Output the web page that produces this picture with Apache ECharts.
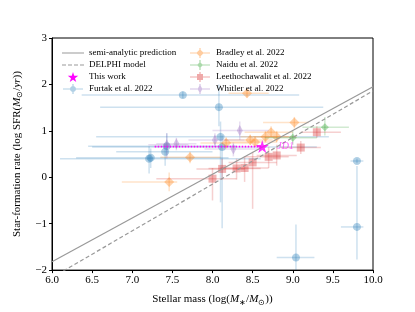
<!DOCTYPE html>
<html><head><meta charset="utf-8">
<script src="https://cdn.jsdelivr.net/npm/echarts@6/dist/echarts.min.js"></script>
<style>html,body{margin:0;padding:0;background:#fff}#c{width:415px;height:312px}</style>
</head><body><div id="c"></div>
<script>
// x-axis ticks (log stellar mass) and y-axis ticks (log SFR)
const xTicks = [6.0, 6.5, 7.0, 7.5, 8.0, 8.5, 9.0, 9.5, 10.0];
const yTicks = [-2, -1, 0, 1, 2, 3];

// model lines: [mass, sfr]
const semiAnalytic = [[6.0, -1.82], [10.0, 1.95]];
const delphi = [[6.0, -2.16], [10.0, 1.86]];

// each row: [mass, sfr, massLow, massHigh, sfrLow, sfrHigh]
const furtak = [
  [7.63, 1.77, 6.37, 9.08, 1.70, 1.84],
  [8.08, 1.51, 6.60, 9.38, 1.10, 2.00],
  [8.10, 0.87, 6.55, 9.45, -0.54, 1.20],
  [8.12, 0.65, 6.50, 9.30, -1.10, 0.90],
  [7.43, 0.67, 6.45, 8.30, 0.45, 0.95],
  [7.41, 0.55, 6.80, 8.00, 0.25, 0.72],
  [7.21, 0.40, 6.10, 8.60, 0.08, 0.66],
  [7.23, 0.42, 6.30, 8.20, 0.20, 0.62],
  [9.80, 0.35, 9.72, 9.88, 0.30, 0.40],
  [9.80, -1.07, 9.60, 9.88, -1.77, 0.24],
  [9.04, -1.73, 8.80, 9.27, -2.20, -1.02]
];
const bradley = [
  [8.43, 1.81, 8.20, 8.70, 1.72, 1.90],
  [9.02, 1.18, 8.63, 9.20, 1.05, 1.30],
  [8.73, 0.97, 8.40, 9.00, 0.85, 1.10],
  [8.80, 0.87, 8.50, 9.05, 0.75, 1.00],
  [8.66, 0.87, 8.35, 8.95, 0.75, 1.00],
  [8.47, 0.80, 8.15, 8.75, 0.70, 0.92],
  [8.53, 0.76, 8.20, 8.80, 0.65, 0.88],
  [8.17, 0.74, 7.85, 8.45, 0.62, 0.86],
  [7.72, 0.43, 7.35, 8.10, 0.30, 0.55],
  [7.46, -0.10, 6.87, 7.56, -0.30, 0.10]
];
const naidu = [
  [9.40, 1.08, 9.12, 9.70, 0.90, 1.30],
  [9.00, 0.85, 8.65, 9.30, 0.70, 1.00]
];
const leethochawalit = [
  [9.30, 0.97, 9.10, 9.60, 0.85, 1.10],
  [9.10, 0.64, 8.85, 9.35, 0.50, 0.78],
  [8.80, 0.47, 8.55, 9.05, 0.25, 0.70],
  [8.70, 0.44, 8.40, 8.95, 0.20, 0.65],
  [8.50, 0.32, 8.20, 8.80, -0.68, 0.55],
  [8.40, 0.20, 8.10, 8.70, -0.10, 0.45],
  [8.30, 0.19, 7.95, 8.60, -0.05, 0.40],
  [8.12, 0.18, 7.80, 8.40, -0.05, 0.40],
  [8.00, -0.03, 7.30, 8.30, -0.50, 0.20]
];
const whitler = [
  [8.34, 1.01, 8.00, 8.70, 0.80, 1.20],
  [8.03, 0.80, 7.70, 8.40, 0.65, 0.95],
  [8.26, 0.61, 7.90, 8.60, 0.45, 0.75],
  [7.55, 0.72, 7.30, 7.80, 0.58, 0.85],
  [7.43, 0.70, 7.20, 7.70, 0.40, 0.95]
];
const thisWork = [[8.62, 0.66, 7.28, 8.62, 0.66, 0.66]];
const thisWorkLabel = 'JD1';

const FONT = 'Liberation Serif';
const STAR = 'path://M0,-1 L0.2245,-0.309 L0.951,-0.309 L0.363,0.118 L0.588,0.809 L0,0.382 L-0.588,0.809 L-0.363,0.118 L-0.951,-0.309 L-0.2245,-0.309 Z';
const SOLID_ICON = 'path://M0,0 L22,0 L22,10 L0,10 Z M0,0 Z';
function lineIcon(dashed) {
  if (!dashed) return 'path://M0,4.4 L22,4.4 L22,5.6 L0,5.6 Z M0,0 L0.01,0 L0.01,0.01 Z M0,10 L0.01,10 L0.01,9.99 Z';
  let d = 'path://';
  for (let x = 0; x < 22; x += 6) d += 'M' + x + ',4.4 L' + Math.min(x + 4, 22) + ',4.4 L' + Math.min(x + 4, 22) + ',5.6 L' + x + ',5.6 Z ';
  d += 'M0,0 L0.01,0 L0.01,0.01 Z M0,10 L0.01,10 L0.01,9.99 Z';
  return d;
}

function rgba(hex, a) {
  const n = parseInt(hex.slice(1), 16);
  return 'rgba(' + (n >> 16) + ',' + ((n >> 8) & 255) + ',' + (n & 255) + ',' + a + ')';
}
function markerPts(shape, cx, cy, s) {
  if (shape === 'diamond') return [[cx, cy - s], [cx + s, cy], [cx, cy + s], [cx - s, cy]];
  if (shape === 'thin') return [[cx, cy - s * 1.1], [cx + s * 0.6, cy], [cx, cy + s * 1.1], [cx - s * 0.6, cy]];
  if (shape === 'square') return [[cx - s, cy - s], [cx + s, cy - s], [cx + s, cy + s], [cx - s, cy + s]];
  const p = [];
  for (let i = 0; i < 16; i++) { const a = i / 16 * Math.PI * 2; p.push([cx + s * Math.cos(a), cy + s * Math.sin(a)]); }
  return p;
}
function legendIcon(shape, s) {
  const pts = markerPts(shape, 10, 5, s);
  let d = 'path://M0,4.4 L20,4.4 L20,5.6 L0,5.6 Z M9.4,0 L10.6,0 L10.6,10 L9.4,10 Z M';
  d += pts.map(p => p[0].toFixed(2) + ',' + p[1].toFixed(2)).join(' L') + ' Z';
  return d;
}
function errSeries(name, data, hex, shape, size) {
  return {
    name, type: 'custom', data, clip: true, z: 3,
    itemStyle: { color: rgba(hex, 0.4) },
    renderItem(params, api) {
      const x = api.value(0), y = api.value(1);
      const c = api.coord([x, y]);
      const l = api.coord([api.value(2), y]), r = api.coord([api.value(3), y]);
      const b = api.coord([x, api.value(4)]), t = api.coord([x, api.value(5)]);
      const es = { stroke: rgba(hex, 0.22), lineWidth: 1.5, fill: null };
      return {
        type: 'group',
        children: [
          { type: 'line', shape: { x1: l[0], y1: l[1], x2: r[0], y2: r[1] }, style: es },
          { type: 'line', shape: { x1: t[0], y1: t[1], x2: b[0], y2: b[1] }, style: es },
          { type: 'polygon', shape: { points: markerPts(shape, c[0], c[1], size) }, style: { fill: rgba(hex, 0.35), stroke: null } }
        ]
      };
    }
  };
}
const blue = '#1f77b4', orange = '#ff7f0e', green = '#2ca02c', red = '#d62728', purple = '#9467bd';

const chart = echarts.init(document.getElementById('c'), null, { renderer: 'canvas' });
chart.setOption({
  animation: false,
  backgroundColor: '#fff',
  textStyle: { fontFamily: FONT },
  grid: { left: 52, right: 42, top: 38, bottom: 35, show: true, borderColor: '#000', borderWidth: 1 },
  legend: [
    {
      left: 57, top: 43, orient: 'vertical', itemWidth: 22, itemHeight: 10, itemGap: 2,
      textStyle: { fontFamily: FONT, fontSize: 9, color: '#000' },
      data: [
        { name: 'semi-analytic prediction', icon: lineIcon(false), itemStyle: { color: '#999' } },
        { name: 'DELPHI model', icon: lineIcon(true), itemStyle: { color: '#999' } },
        { name: 'This work', icon: STAR, itemStyle: { color: '#ff00ff' } },
        { name: 'Furtak et al. 2022', icon: legendIcon('circle', 3), itemStyle: { color: rgba(blue, 0.35) } }
      ]
    },
    {
      left: 185, top: 43, orient: 'vertical', itemWidth: 22, itemHeight: 10, itemGap: 2,
      textStyle: { fontFamily: FONT, fontSize: 9, color: '#000' },
      data: [
        { name: 'Bradley et al. 2022', icon: legendIcon('diamond', 3.8), itemStyle: { color: rgba(orange, 0.4) } },
        { name: 'Naidu et al. 2022', icon: legendIcon('diamond', 3), itemStyle: { color: rgba(green, 0.4) } },
        { name: 'Leethochawalit et al. 2022', icon: legendIcon('square', 3), itemStyle: { color: rgba(red, 0.4) } },
        { name: 'Whitler et al. 2022', icon: legendIcon('thin', 4), itemStyle: { color: rgba(purple, 0.4) } }
      ]
    }
  ],
  xAxis: {
    type: 'value', min: xTicks[0], max: xTicks[xTicks.length - 1], interval: 0.5,
    axisLine: { onZero: false, lineStyle: { color: '#000' } },
    axisTick: { length: 3, lineStyle: { color: '#000' } },
    splitLine: { show: false },
    axisLabel: { color: '#000', fontSize: 11, fontFamily: FONT, margin: 5, formatter: v => v.toFixed(1) },
    name: '{a|Stellar mass (log(}{i|M}{s|∗}{a|/}{i|M}{s|⊙}{a|))}',
    nameLocation: 'middle', nameGap: 20,
    nameTextStyle: {
      rich: {
        a: { fontSize: 11, fontFamily: FONT, color: '#000', verticalAlign: 'top', lineHeight: 13 },
        i: { fontSize: 11, fontFamily: FONT, fontStyle: 'italic', color: '#000', verticalAlign: 'top', lineHeight: 13 },
        s: { fontSize: 7.5, fontFamily: FONT, color: '#000', verticalAlign: 'bottom', lineHeight: 8, padding: [8, 0, 0, 0] }
      }
    }
  },
  yAxis: {
    type: 'value', min: yTicks[0], max: yTicks[yTicks.length - 1], interval: 1,
    axisLine: { onZero: false, lineStyle: { color: '#000' } },
    axisTick: { show: true, length: 3, lineStyle: { color: '#000' } },
    splitLine: { show: false },
    axisLabel: { color: '#000', fontSize: 11, fontFamily: FONT, margin: 5, formatter: v => (v < 0 ? '\u2212' + Math.abs(v) : String(v)) },
    name: '{a|Star-formation rate (log SFR(}{i|M}{s|⊙}{a|/}{i|yr}{a|))}',
    nameLocation: 'middle', nameGap: 22,
    nameTextStyle: {
      rich: {
        a: { fontSize: 11, fontFamily: FONT, color: '#000', verticalAlign: 'top', lineHeight: 13 },
        i: { fontSize: 11, fontFamily: FONT, fontStyle: 'italic', color: '#000', verticalAlign: 'top', lineHeight: 13 },
        s: { fontSize: 7.5, fontFamily: FONT, color: '#000', verticalAlign: 'bottom', lineHeight: 8, padding: [8, 0, 0, 0] }
      }
    }
  },
  series: [
    errSeries('Furtak et al. 2022', furtak, blue, 'circle', 4),
    errSeries('Bradley et al. 2022', bradley, orange, 'diamond', 5),
    errSeries('Naidu et al. 2022', naidu, green, 'diamond', 4),
    errSeries('Leethochawalit et al. 2022', leethochawalit, red, 'square', 4),
    errSeries('Whitler et al. 2022', whitler, purple, 'thin', 5),
    {
      name: 'semi-analytic prediction', type: 'line', data: semiAnalytic, symbol: 'none', z: 4,
      lineStyle: { color: '#999', width: 1.2 }, itemStyle: { color: '#999' }
    },
    {
      name: 'DELPHI model', type: 'line', data: delphi, symbol: 'none', z: 4,
      lineStyle: { color: '#999', width: 1.2, type: [4, 2.5] }, itemStyle: { color: '#999' }
    },
    {
      name: 'This work', type: 'custom', data: thisWork, z: 6, clip: true,
      itemStyle: { color: '#ff00ff' },
      renderItem(params, api) {
        const c = api.coord([api.value(0), api.value(1)]);
        const l = api.coord([api.value(2), api.value(1)]);
        const r = api.coord([api.value(3), api.value(1)]);
        return {
          type: 'group', children: [
            { type: 'line', shape: { x1: l[0], y1: l[1], x2: r[0], y2: r[1] }, style: { stroke: '#ff00ff', lineWidth: 1.6, lineDash: [1.5, 1.5] } },
            { type: 'text', style: { x: c[0] + 15, y: c[1], text: thisWorkLabel, fill: 'rgba(255,0,255,0.6)', font: 'italic 10px "Liberation Serif"', verticalAlign: 'middle' } }
          ]
        };
      }
    },
    {
      name: 'This work', type: 'scatter', data: thisWork.map(d => [d[0], d[1]]), z: 7,
      symbol: STAR, symbolSize: 13, itemStyle: { color: '#ff00ff' }
    }
  ]
});
</script></body></html>
